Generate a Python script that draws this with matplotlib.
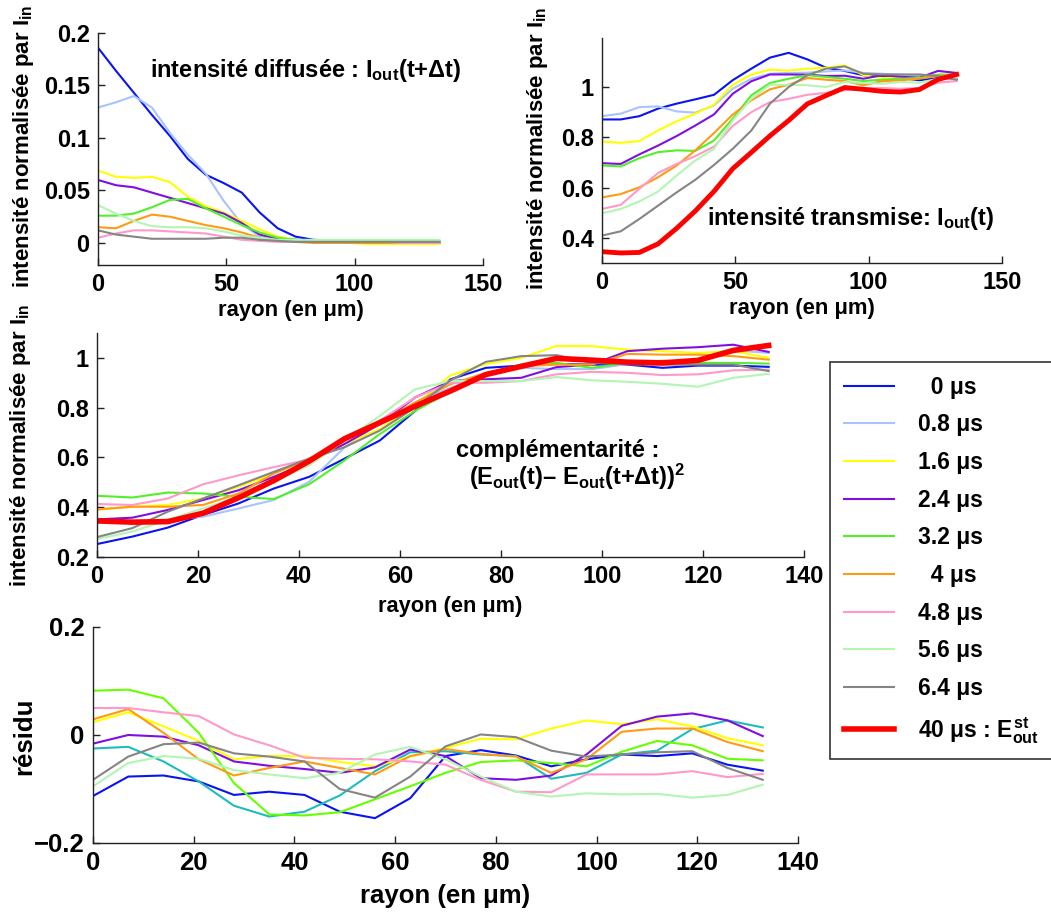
import matplotlib
matplotlib.use('Agg')
import matplotlib.pyplot as plt
from matplotlib.ticker import FuncFormatter

plt.rcParams['font.family'] = ['Liberation Sans', 'DejaVu Sans']
plt.rcParams['font.weight'] = 'bold'
plt.rcParams['axes.labelweight'] = 'bold'
plt.rcParams['mathtext.fontset'] = 'custom'
for k in ['rm', 'it', 'bf', 'sf']:
    plt.rcParams['mathtext.' + k] = 'Liberation Sans:bold'

# -- data (rayon in µm)
rayon = [0, 7, 14, 21, 28, 35, 42, 49, 56, 63, 70, 77, 84, 91, 98, 105, 112, 119, 126, 133]

labels = ['  0 μs', '0.8 μs', '1.6 μs', '2.4 μs', '3.2 μs', '  4 μs', '4.8 μs', '5.6 μs', '6.4 μs']
colors = ['#0a14f0', '#a9c3ff', '#ffff00', '#7f0fe0', '#52f02a', '#ff9a14', '#ff99c8', '#b3f5b3', '#858585']
resid_colors = ['#0a14f0', '#1fbcbc', '#ffff00', '#7f0fe0', '#66ff00', '#ff9a14', '#ff99c8', '#b3f5b3', '#858585']

# intensité diffusée I_out(t+dt)
diff_0 = [0.186, 0.164, 0.143, 0.122, 0.102, 0.080, 0.065, 0.057, 0.048, 0.029, 0.014, 0.006, 0.003, 0.002, 0.001, 0.001, 0.001, 0.001, 0.000, 0.000]
diff_08 = [0.129, 0.134, 0.140, 0.129, 0.105, 0.084, 0.066, 0.040, 0.018, 0.006, 0.003, 0.002, 0.002, 0.002, 0.002, 0.001, 0.001, 0.001, 0.001, 0.001]
diff_16 = [0.069, 0.063, 0.062, 0.063, 0.058, 0.044, 0.035, 0.029, 0.021, 0.013, 0.006, 0.003, 0.001, 0.000, 0.000, -0.001, -0.001, -0.001, -0.001, -0.001]
diff_24 = [0.060, 0.055, 0.053, 0.048, 0.043, 0.038, 0.033, 0.028, 0.019, 0.008, 0.004, 0.003, 0.002, 0.001, 0.001, 0.001, 0.001, 0.001, 0.001, 0.001]
diff_32 = [0.026, 0.026, 0.028, 0.034, 0.041, 0.042, 0.033, 0.025, 0.017, 0.010, 0.005, 0.003, 0.002, 0.002, 0.002, 0.002, 0.002, 0.002, 0.002, 0.002]
diff_4 = [0.015, 0.014, 0.021, 0.027, 0.025, 0.021, 0.017, 0.014, 0.010, 0.005, 0.002, 0.001, 0.000, 0.000, 0.000, 0.000, 0.000, 0.000, 0.000, 0.000]
diff_48 = [0.005, 0.009, 0.012, 0.012, 0.011, 0.010, 0.009, 0.006, 0.003, 0.002, 0.001, 0.001, 0.001, 0.001, 0.001, 0.001, 0.001, 0.000, 0.000, 0.000]
diff_56 = [0.036, 0.028, 0.021, 0.016, 0.015, 0.015, 0.014, 0.011, 0.007, 0.005, 0.003, 0.003, 0.003, 0.003, 0.003, 0.003, 0.003, 0.003, 0.003, 0.003]
diff_64 = [0.012, 0.008, 0.006, 0.004, 0.004, 0.004, 0.004, 0.005, 0.005, 0.003, 0.002, 0.001, 0.001, 0.001, 0.001, 0.001, 0.001, 0.001, 0.001, 0.001]

# intensité transmise I_out(t)
trans_0 = [0.871, 0.871, 0.884, 0.914, 0.934, 0.951, 0.969, 1.027, 1.073, 1.117, 1.136, 1.110, 1.077, 1.064, 1.047, 1.040, 1.036, 1.027, 1.036, 1.033]
trans_08 = [0.884, 0.894, 0.920, 0.923, 0.903, 0.898, 0.927, 0.993, 1.033, 1.053, 1.056, 1.057, 1.062, 1.066, 1.056, 1.053, 1.049, 1.044, 1.044, 1.040]
trans_16 = [0.783, 0.778, 0.785, 0.827, 0.864, 0.894, 0.930, 1.009, 1.050, 1.069, 1.065, 1.073, 1.077, 1.086, 1.047, 1.036, 1.036, 1.037, 1.049, 1.047]
trans_24 = [0.697, 0.694, 0.732, 0.767, 0.805, 0.847, 0.891, 0.973, 1.023, 1.050, 1.050, 1.049, 1.044, 1.045, 1.033, 1.047, 1.041, 1.037, 1.064, 1.056]
trans_32 = [0.688, 0.684, 0.717, 0.741, 0.748, 0.746, 0.787, 0.874, 0.967, 1.016, 1.033, 1.047, 1.040, 1.033, 1.024, 1.029, 1.033, 1.036, 1.049, 1.050]
trans_4 = [0.561, 0.574, 0.601, 0.641, 0.688, 0.748, 0.817, 0.890, 0.947, 0.991, 1.009, 1.036, 1.029, 1.024, 1.007, 1.023, 1.027, 1.033, 1.044, 1.047]
trans_48 = [0.515, 0.531, 0.595, 0.658, 0.694, 0.725, 0.763, 0.845, 0.900, 0.940, 0.953, 0.969, 0.977, 0.987, 0.996, 0.996, 0.993, 0.996, 1.017, 1.024]
trans_56 = [0.498, 0.515, 0.545, 0.584, 0.648, 0.708, 0.754, 0.867, 0.953, 1.009, 1.009, 1.007, 1.000, 1.020, 1.016, 1.013, 1.020, 1.017, 1.033, 1.036]
trans_64 = [0.409, 0.426, 0.475, 0.528, 0.581, 0.631, 0.690, 0.754, 0.827, 0.934, 1.000, 1.047, 1.073, 1.082, 1.053, 1.050, 1.050, 1.050, 1.044, 1.029]

# 40 µs : E_out^st
ref_40 = [0.345, 0.340, 0.342, 0.376, 0.438, 0.507, 0.585, 0.675, 0.740, 0.806, 0.867, 0.933, 0.966, 0.998, 0.991, 0.983, 0.980, 0.990, 1.030, 1.050]

# complémentarité (E_out(t) - E_out(t+dt))^2
comp_0 = [0.252, 0.282, 0.318, 0.369, 0.415, 0.475, 0.522, 0.595, 0.668, 0.787, 0.914, 0.960, 0.969, 0.976, 0.973, 0.973, 0.960, 0.969, 0.969, 0.964]
comp_08 = [0.340, 0.345, 0.350, 0.362, 0.395, 0.429, 0.502, 0.640, 0.740, 0.820, 0.880, 0.930, 0.960, 0.955, 0.955, 0.975, 0.975, 0.990, 1.030, 1.020]
comp_16 = [0.391, 0.402, 0.409, 0.435, 0.482, 0.535, 0.595, 0.654, 0.714, 0.807, 0.930, 0.975, 1.000, 1.048, 1.047, 1.033, 1.027, 1.020, 1.027, 1.000]
comp_24 = [0.351, 0.358, 0.389, 0.429, 0.468, 0.522, 0.581, 0.654, 0.734, 0.841, 0.907, 0.914, 0.920, 0.963, 0.973, 1.027, 1.037, 1.043, 1.053, 1.024]
comp_32 = [0.446, 0.439, 0.459, 0.455, 0.442, 0.433, 0.492, 0.588, 0.694, 0.787, 0.865, 0.934, 0.973, 0.980, 0.960, 0.980, 0.989, 0.980, 0.980, 0.977]
comp_4 = [0.391, 0.402, 0.402, 0.409, 0.455, 0.535, 0.595, 0.668, 0.741, 0.821, 0.894, 0.940, 0.967, 0.973, 0.973, 1.016, 1.013, 1.013, 1.007, 0.993]
comp_48 = [0.413, 0.409, 0.435, 0.492, 0.528, 0.561, 0.592, 0.668, 0.748, 0.841, 0.900, 0.900, 0.907, 0.934, 0.944, 0.940, 0.931, 0.934, 0.950, 0.953]
comp_56 = [0.272, 0.302, 0.349, 0.395, 0.442, 0.502, 0.568, 0.668, 0.767, 0.874, 0.907, 0.907, 0.907, 0.923, 0.910, 0.904, 0.896, 0.884, 0.920, 0.936]
comp_64 = [0.280, 0.316, 0.382, 0.435, 0.488, 0.542, 0.595, 0.641, 0.708, 0.801, 0.910, 0.984, 1.007, 1.011, 0.980, 0.975, 0.973, 0.973, 0.973, 0.947]

# résidu
res_0 = [-0.113, -0.077, -0.075, -0.086, -0.111, -0.105, -0.111, -0.142, -0.154, -0.117, -0.039, -0.028, -0.038, -0.058, -0.045, -0.036, -0.039, -0.034, -0.055, -0.066]
res_08 = [-0.025, -0.022, -0.049, -0.086, -0.131, -0.151, -0.142, -0.112, -0.067, -0.032, -0.030, -0.036, -0.039, -0.081, -0.070, -0.036, -0.029, 0.011, 0.027, 0.014]
res_16 = [0.024, 0.042, 0.016, -0.011, -0.045, -0.039, -0.039, -0.050, -0.058, -0.040, -0.024, -0.007, -0.008, 0.012, 0.027, 0.020, 0.029, 0.016, -0.006, -0.019]
res_24 = [-0.016, 0.000, -0.003, -0.019, -0.049, -0.057, -0.063, -0.070, -0.060, -0.027, -0.039, -0.080, -0.083, -0.075, -0.036, 0.017, 0.034, 0.040, 0.027, -0.002]
res_32 = [0.082, 0.084, 0.068, 0.004, -0.089, -0.147, -0.149, -0.143, -0.119, -0.095, -0.070, -0.050, -0.047, -0.052, -0.058, -0.031, -0.011, -0.019, -0.044, -0.047]
res_4 = [0.029, 0.048, 0.004, -0.045, -0.075, -0.061, -0.049, -0.061, -0.073, -0.039, -0.026, -0.035, -0.040, -0.070, -0.045, 0.006, 0.012, 0.012, -0.013, -0.030]
res_48 = [0.050, 0.050, 0.042, 0.035, 0.001, -0.019, -0.042, -0.044, -0.045, -0.049, -0.055, -0.083, -0.105, -0.106, -0.073, -0.073, -0.073, -0.067, -0.078, -0.072]
res_56 = [-0.095, -0.052, -0.039, -0.044, -0.065, -0.073, -0.080, -0.070, -0.036, -0.022, -0.045, -0.077, -0.105, -0.114, -0.108, -0.110, -0.109, -0.116, -0.111, -0.092]
res_64 = [-0.083, -0.040, -0.017, -0.014, -0.034, -0.040, -0.049, -0.100, -0.116, -0.077, -0.021, 0.001, -0.004, -0.029, -0.040, -0.036, -0.032, -0.030, -0.061, -0.083]

diffusee = [diff_0, diff_08, diff_16, diff_24, diff_32, diff_4, diff_48, diff_56, diff_64]
transmise = [trans_0, trans_08, trans_16, trans_24, trans_32, trans_4, trans_48, trans_56, trans_64]
complement = [comp_0, comp_08, comp_16, comp_24, comp_32, comp_4, comp_48, comp_56, comp_64]
residu = [res_0, res_08, res_16, res_24, res_32, res_4, res_48, res_56, res_64]

W, H = 1051, 916


def px_axes(left, top, right, bottom):
    return [left / W, 1 - bottom / H, (right - left) / W, (bottom - top) / H]


def matlab_style(ax, size):
    for s in ['top', 'right']:
        ax.spines[s].set_visible(False)
    for s in ['left', 'bottom']:
        ax.spines[s].set_linewidth(1.0)
        ax.spines[s].set_color('#222222')
    ax.tick_params(direction='in', length=5, width=1, labelsize=size, pad=6, color='#222222')
    ax.yaxis.set_major_formatter(FuncFormatter(lambda v, p: f'{v:g}'.replace('-', '\u2212')))
    ax.xaxis.set_major_formatter(FuncFormatter(lambda v, p: f'{v:g}'))


fig = plt.figure(figsize=(W / 100, H / 100), dpi=100)
ylab = 'intensité normalisée par $I_{in}$'

# -- top left: diffused intensity
ax1 = fig.add_axes(px_axes(98, 33, 483, 265))
for y, c in zip(diffusee, colors):
    ax1.plot(rayon, y, color=c, lw=1.5)
ax1.set_xlim(0, 150)
ax1.set_ylim(-0.021, 0.2)
ax1.set_xticks([0, 50, 100, 150])
ax1.set_yticks([0, 0.05, 0.1, 0.15, 0.2])
matlab_style(ax1, 17)
ax1.set_xlabel('rayon (en μm)', fontsize=15.8)
ax1.xaxis.set_label_coords(0.5, -0.15)
ax1.set_ylabel(ylab, fontsize=16)
ax1.yaxis.set_label_coords(-0.161, 0.51)
ax1.text(20.3, 0.158, 'intensité diffusée : $I_{out}$(t+Δt)', fontsize=17, ha='left', va='baseline')

# -- top right: transmitted intensity
ax2 = fig.add_axes(px_axes(602, 38, 1002, 263))
for y, c in zip(transmise, colors):
    ax2.plot(rayon, y, color=c, lw=1.5)
ax2.plot(rayon, ref_40, color='#ff0000', lw=3.5)
ax2.set_xlim(0, 150)
ax2.set_ylim(0.3, 1.195)
ax2.set_xticks([0, 50, 100, 150])
ax2.set_yticks([0.4, 0.6, 0.8, 1])
matlab_style(ax2, 17)
ax2.set_xlabel('rayon (en μm)', fontsize=15.8)
ax2.xaxis.set_label_coords(0.5, -0.155)
ax2.set_ylabel(ylab, fontsize=16)
ax2.yaxis.set_label_coords(-0.13, 0.51)
ax2.text(39.4, 0.452, 'intensité transmise: $I_{out}$(t)', fontsize=17, ha='left', va='baseline')

# -- middle: complementarity
ax3 = fig.add_axes(px_axes(97, 333, 804, 557))
lines = []
for y, c in zip(complement, colors):
    lines += ax3.plot(rayon, y, color=c, lw=1.5)
lines += ax3.plot(rayon, ref_40, color='#ff0000', lw=4)
ax3.set_xlim(0, 140)
ax3.set_ylim(0.2, 1.1)
ax3.set_xticks(range(0, 141, 20))
ax3.set_yticks([0.2, 0.4, 0.6, 0.8, 1])
matlab_style(ax3, 17)
ax3.set_xlabel('rayon (en μm)', fontsize=15.7)
ax3.xaxis.set_label_coords(0.5, -0.175)
ax3.set_ylabel(ylab, fontsize=16)
ax3.yaxis.set_label_coords(-0.09, 0.5)
ax3.text(71.1, 0.601, 'complémentarité :', fontsize=17, ha='left', va='baseline')
ax3.text(73.7, 0.49, '($E_{out}$(t)– $E_{out}$(t+Δt))$^2$', fontsize=17, ha='left', va='baseline')

# -- bottom: residuals
ax4 = fig.add_axes(px_axes(93, 627, 798, 843))
for y, c in zip(residu, resid_colors):
    ax4.plot(rayon, y, color=c, lw=1.5)
ax4.set_xlim(0, 140)
ax4.set_ylim(-0.2, 0.2)
ax4.set_xticks(range(0, 141, 20))
ax4.set_yticks([-0.2, 0, 0.2])
matlab_style(ax4, 18.5)
ax4.set_xlabel('rayon (en μm)', fontsize=18.5)
ax4.xaxis.set_label_coords(0.5, -0.19)
ax4.set_ylabel('résidu', fontsize=18.5)
ax4.yaxis.set_label_coords(-0.081, 0.493)

# -- legend
leg_labels = labels + ['40 μs : $E^{st}_{out}$']
leg = fig.legend(lines, leg_labels, loc='upper left', bbox_to_anchor=(830 / W, 1 - 362 / H),
                 fontsize=16.5, frameon=True, fancybox=False, borderaxespad=0, borderpad=0.6,
                 labelspacing=0.64, handlelength=2.2, handletextpad=1.05)
leg.get_frame().set_edgecolor('black')
leg.get_frame().set_linewidth(1.2)

fig.savefig('out.png', dpi=100)
